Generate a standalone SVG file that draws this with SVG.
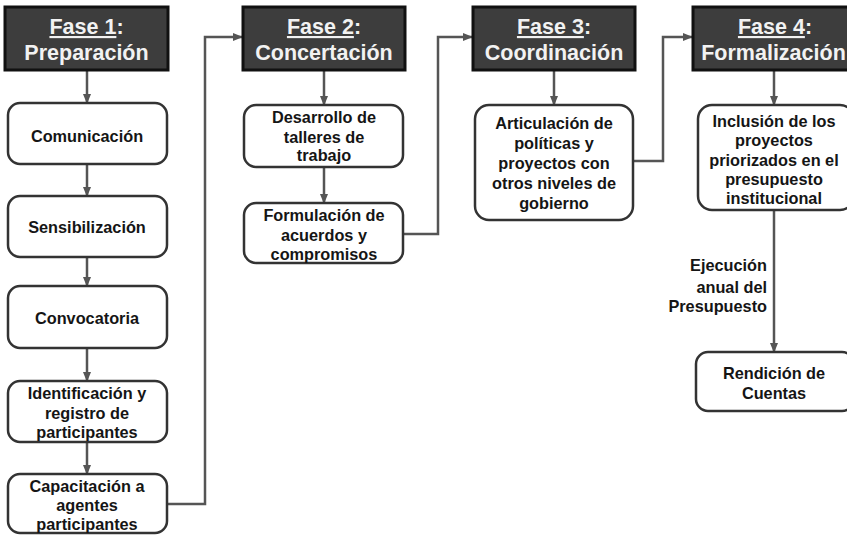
<svg xmlns="http://www.w3.org/2000/svg" width="847" height="535" viewBox="0 0 847 535">
<style>
.hdr rect{fill:#3d3d3d;stroke:#111;stroke-width:3}
.hdr text{font-family:"Liberation Sans",Arial,sans-serif;font-weight:bold;font-size:21.5px;fill:#f2f2f2;text-anchor:middle}
.nd rect{fill:#fff;stroke:#333;stroke-width:2.5}
.nd text,.lbl{font-family:"Liberation Sans",Arial,sans-serif;font-weight:bold;font-size:16.3px;fill:#151515;text-anchor:middle}
.lbl{text-anchor:end}
.conn path{fill:none;stroke:#555;stroke-width:2.5}
</style>
<defs>
<marker id="ah" markerUnits="userSpaceOnUse" markerWidth="10" markerHeight="10" viewBox="0 0 10 10" refX="9" refY="5" orient="auto">
<path d="M0,1 L10,5 L0,9 Z" fill="#555"/>
</marker>
</defs>
<rect width="847" height="535" fill="#fff"/>

<g class="conn">
<path d="M87 70 V103" marker-end="url(#ah)"/>
<path d="M87 164 V196" marker-end="url(#ah)"/>
<path d="M87 257 V286" marker-end="url(#ah)"/>
<path d="M87 348 V381" marker-end="url(#ah)"/>
<path d="M87 442 V474" marker-end="url(#ah)"/>
<path d="M167 504 H205 V37 H242" marker-end="url(#ah)"/>
<path d="M324 70 V105" marker-end="url(#ah)"/>
<path d="M324 167 V203" marker-end="url(#ah)"/>
<path d="M403 234 H438 V37 H472" marker-end="url(#ah)"/>
<path d="M554 70 V105" marker-end="url(#ah)"/>
<path d="M633 161 H663 V37 H692" marker-end="url(#ah)"/>
<path d="M774 70 V105" marker-end="url(#ah)"/>
<path d="M774 210 V352" marker-end="url(#ah)"/>
</g>

<g id="fase1" class="hdr"><rect x="5" y="7" width="163" height="63"/><text x="86.5" y="34"><tspan text-decoration="underline">Fase 1</tspan>:</text><text x="86.5" y="60">Preparación</text></g>
<g id="fase2" class="hdr"><rect x="243" y="7" width="162" height="63"/><text x="324" y="34"><tspan text-decoration="underline">Fase 2</tspan>:</text><text x="324" y="60">Concertación</text></g>
<g id="fase3" class="hdr"><rect x="473" y="7" width="162" height="63"/><text x="554" y="34"><tspan text-decoration="underline">Fase 3</tspan>:</text><text x="554" y="60">Coordinación</text></g>
<g id="fase4" class="hdr"><rect x="693" y="7" width="164" height="63"/><text x="775" y="34"><tspan text-decoration="underline">Fase 4</tspan>:</text><text x="773.5" y="60">Formalización</text></g>

<g id="comunicacion" class="nd"><rect x="8" y="103" width="159" height="61" rx="12"/><text x="87" y="142">Comunicación</text></g>
<g id="sensibilizacion" class="nd"><rect x="8" y="196" width="159" height="61" rx="12"/><text x="87" y="233">Sensibilización</text></g>
<g id="convocatoria" class="nd"><rect x="8" y="286" width="159" height="62" rx="12"/><text x="87" y="324">Convocatoria</text></g>
<g id="identificacion" class="nd"><rect x="8" y="381" width="159" height="61" rx="12"/><text x="87" y="398.5">Identificación y</text><text x="87" y="418.5">registro de</text><text x="87" y="437.5">participantes</text></g>
<g id="capacitacion" class="nd"><rect x="8" y="474" width="159" height="59" rx="12"/><text x="87" y="491.5">Capacitación a</text><text x="87" y="510.5">agentes</text><text x="87" y="529.5">participantes</text></g>

<g id="desarrollo" class="nd"><rect x="244" y="105" width="159" height="62" rx="12"/><text x="324" y="122.5">Desarrollo de</text><text x="324" y="142.5">talleres de</text><text x="324" y="161">trabajo</text></g>
<g id="formulacion" class="nd"><rect x="244" y="203" width="159" height="60" rx="12"/><text x="324" y="220.5">Formulación de</text><text x="324" y="240.5">acuerdos y</text><text x="324" y="259.5">compromisos</text></g>

<g id="articulacion" class="nd"><rect x="475" y="105" width="158" height="115" rx="14"/><text x="554" y="128.5">Articulación de</text><text x="554" y="148.5">políticas y</text><text x="554" y="169">proyectos con</text><text x="554" y="188.5">otros niveles de</text><text x="554" y="208.5">gobierno</text></g>

<g id="inclusion" class="nd"><rect x="698" y="105" width="156" height="105" rx="14"/><text x="774" y="126.5">Inclusión de los</text><text x="774" y="145.5">proyectos</text><text x="774" y="165.5">priorizados en el</text><text x="774" y="184.5">presupuesto</text><text x="774" y="203.5">institucional</text></g>
<g id="rendicion" class="nd"><rect x="696" y="352" width="158" height="59" rx="12"/><text x="774" y="378.5">Rendición de</text><text x="774" y="398.5">Cuentas</text></g>

<text class="lbl" x="767" y="270.5">Ejecución</text>
<text class="lbl" x="767" y="292.5">anual del</text>
<text class="lbl" x="767" y="311.5">Presupuesto</text>
</svg>
